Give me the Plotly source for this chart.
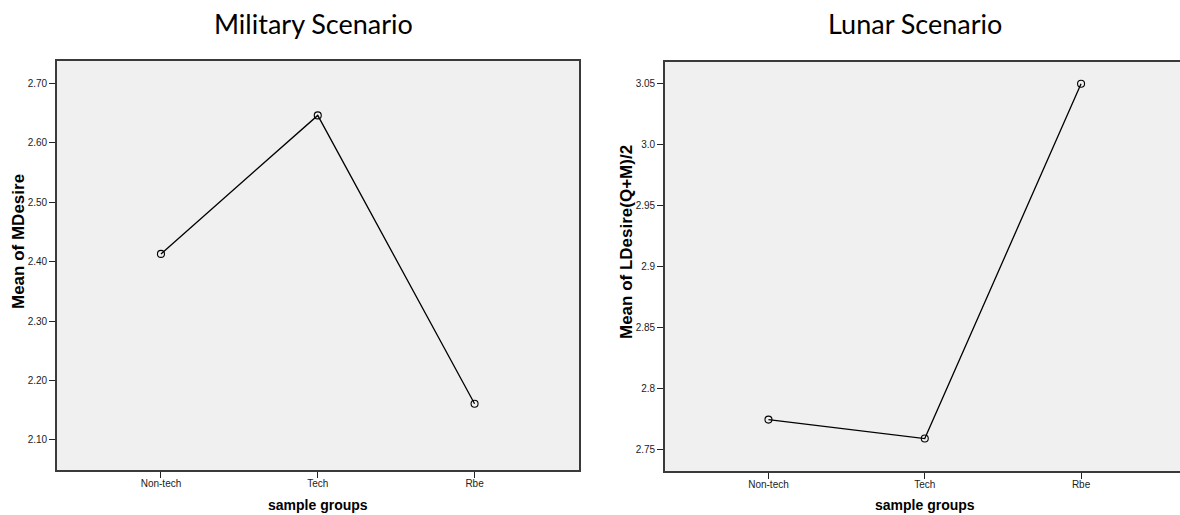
import plotly.graph_objects as go

W, H = 1180, 515

categories = ["Non-tech", "Tech", "Rbe"]
military_means = [2.413, 2.646, 2.161]
lunar_means = [2.7745, 2.7590, 3.0497]

military_ticks = [2.10, 2.20, 2.30, 2.40, 2.50, 2.60, 2.70]
military_ticktext = ["2.10", "2.20", "2.30", "2.40", "2.50", "2.60", "2.70"]
lunar_ticks = [2.75, 2.80, 2.85, 2.90, 2.95, 3.00, 3.05]
lunar_ticktext = ["2.75", "2.8", "2.85", "2.9", "2.95", "3.0", "3.05"]

titles = ["Military Scenario", "Lunar Scenario"]
ytitles = ["Mean of MDesire", "Mean of LDesire(Q+M)/2"]
xtitle = "sample groups"

def px_x(v):
    return v / W

def px_y(v):
    return 1 - v / H

fig = go.Figure()

idx = list(range(len(categories)))

line_style = dict(color="black", width=1.3)
marker_style = dict(symbol="circle-open", size=7, color="black", line=dict(width=1.1, color="black"))

fig.add_trace(go.Scatter(x=idx, y=military_means, mode="lines+markers",
                         line=line_style, marker=marker_style,
                         xaxis="x", yaxis="y", showlegend=False, hoverinfo="y"))
fig.add_trace(go.Scatter(x=idx, y=lunar_means, mode="lines+markers",
                         line=line_style, marker=marker_style,
                         xaxis="x2", yaxis="y2", showlegend=False, hoverinfo="y"))

tick_font = dict(family="Liberation Sans, Arial, sans-serif", size=10, color="#222")
frame_col = "#3a3a3a"

common_x = dict(tickmode="array", tickvals=idx, ticktext=categories,
                ticks="outside", ticklen=6, tickcolor="#222", tickwidth=1,
                showgrid=False, zeroline=False, tickfont=tick_font,
                showline=True, linecolor=frame_col, linewidth=1.8, mirror=True,
                fixedrange=True, ticklabelstandoff=-3)
common_y = dict(ticks="outside", ticklen=6, tickcolor="#222", tickwidth=1,
                showgrid=False, zeroline=False, tickfont=tick_font,
                showline=True, linecolor=frame_col, linewidth=1.8,
                fixedrange=True, tickmode="array")

fig.update_layout(
    width=W, height=H,
    margin=dict(l=0, r=0, t=0, b=0),
    paper_bgcolor="white",
    plot_bgcolor="#F0F0F0",
    xaxis=dict(common_x, domain=[px_x(57), px_x(579)], range=[-0.663, 2.666], anchor="y"),
    yaxis=dict(common_y, domain=[px_y(470), px_y(61)], range=[2.0495, 2.7375],
               tickvals=military_ticks, ticktext=military_ticktext, mirror=True, anchor="x"),
    xaxis2=dict(common_x, domain=[px_x(665), 1.0], range=[-0.662, 2.633], anchor="y2"),
    yaxis2=dict(common_y, domain=[px_y(471), px_y(62)], range=[2.7324, 3.0675],
                tickvals=lunar_ticks, ticktext=lunar_ticktext, mirror=False, anchor="x2"),
)

annotations = []
title_font = dict(family="Lato, Open Sans, sans-serif", size=27, color="black")
for t, cx in zip(titles, [313, 915]):
    annotations.append(dict(text=t, x=px_x(cx), y=px_y(23), xref="paper", yref="paper",
                            showarrow=False, xanchor="center", yanchor="middle", font=title_font))

axis_title_font = dict(family="Liberation Sans, Arial, sans-serif", size=14, color="black")
for cx in [318, 925]:
    annotations.append(dict(text="<b>%s</b>" % xtitle, x=px_x(cx), y=px_y(505), xref="paper", yref="paper",
                            showarrow=False, xanchor="center", yanchor="middle", font=axis_title_font))

yt_font = dict(family="Liberation Sans, Arial, sans-serif", size=17, color="black")
for t, cx in zip(ytitles, [19, 627]):
    annotations.append(dict(text="<b>%s</b>" % t, x=px_x(cx), y=px_y(242), xref="paper", yref="paper",
                            showarrow=False, xanchor="center", yanchor="middle", textangle=-90, font=yt_font))

fig.update_layout(annotations=annotations)

fig.write_html("out.html")
